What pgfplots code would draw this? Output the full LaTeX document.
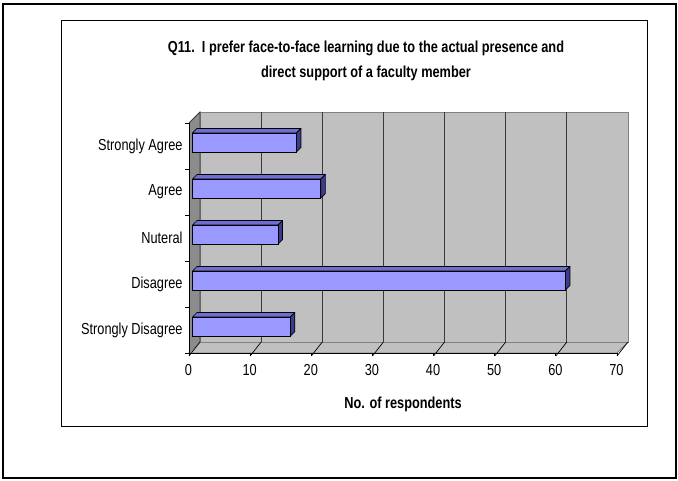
\documentclass[border=0pt]{standalone}
\usepackage{pgfplots}
\pgfplotsset{compat=1.18}
\usepackage{fontspec}
\setmainfont{Liberation Sans}[FakeStretch=0.8]
\definecolor{wallgray}{HTML}{C0C0C0}
\definecolor{sidegray}{HTML}{8C8C8C}
\definecolor{edgegray}{HTML}{808080}
\definecolor{gridgray}{HTML}{3A3A3A}
\definecolor{barfront}{HTML}{9999FF}
\definecolor{bartop}{HTML}{6E6ED2}
\definecolor{barend}{HTML}{3C3C8C}
\def\xu{6.114}% bp per respondent
\def\dep{11}% wall depth in bp

\begin{document}
\begin{tikzpicture}[x=1bp,y=1bp]
\useasboundingbox (0bp,0bp) rectangle (678bp,481bp);
% page frame and chart area
\draw[line width=2bp] (2.5bp,3bp) rectangle (676bp,476.5bp);
\draw[line width=1bp] (61bp,54bp) rectangle (647bp,460bp);
\node[font=\bfseries\fontsize{16}{25}\selectfont, align=center]
  at (366bp,420bp) {Q11.\ \ I prefer face-to-face learning due to the actual presence and\\direct support of a faculty member};
\begin{axis}[
  at={(189bp,128bp)}, anchor=south west,
  x=\xu bp, y=46bp,
  xmin=0, xmax=70, ymin=-0.5, ymax=4.5,
  clip=false, axis on top,
  axis x line*=bottom, axis y line*=left,
  axis line style={black, line width=0.9bp, -},
  xtick={0,10,...,70},
  ytick={0,...,4},
  yticklabels={Strongly Disagree,Disagree,Nuteral,Agree,Strongly Agree},
  minor ytick={-0.5,0.5,...,4.5},
  tick align=outside,
  major x tick style={black, line width=0.8bp},
  major tick length=3bp,
  major y tick style={draw=none},
  minor tick length=4bp,
  minor tick style={black, line width=0.8bp},
  /pgf/number format/assume math mode=true,
  tick label style={font=\fontsize{16}{18}\selectfont},
  xticklabel style={yshift=-5bp, xshift=-0.5bp},
  xlabel={No. of respondents},
  xlabel style={font=\bfseries\fontsize{16}{18}\selectfont, at={(axis description cs:0.5,-0.2217)}, anchor=center},
]
% side wall, floor and back wall
\fill[sidegray] (axis cs:0,-0.5) -- (axis cs:0,4.5) -- ([shift={(\dep bp,\dep bp)}]axis cs:0,4.5) -- ([shift={(\dep bp,\dep bp)}]axis cs:0,-0.5) -- cycle;
\filldraw[fill=wallgray, draw=edgegray, line width=0.8bp] (axis cs:0,-0.5) -- (axis cs:70,-0.5) -- ([shift={(\dep bp,\dep bp)}]axis cs:70,-0.5) -- ([shift={(\dep bp,\dep bp)}]axis cs:0,-0.5) -- cycle;
\filldraw[fill=wallgray, draw=edgegray, line width=0.8bp] ([shift={(\dep bp,\dep bp)}]axis cs:0,-0.5) rectangle ([shift={(\dep bp,\dep bp)}]axis cs:70,4.5);
\draw[gridgray, line width=0.8bp] (axis cs:0,4.5) -- ([shift={(\dep bp,\dep bp)}]axis cs:0,4.5) -- ([shift={(\dep bp,\dep bp)}]axis cs:0,-0.5);
\pgfplotsinvokeforeach{10,20,...,60}{
  \draw[gridgray, line width=0.8bp] ([shift={(\dep bp,\dep bp)}]axis cs:#1,-0.5) -- ([shift={(\dep bp,\dep bp)}]axis cs:#1,4.5);
}
\pgfplotsinvokeforeach{0,10,...,70}{
  \draw[black, line width=0.7bp] ([yshift=-3bp]axis cs:#1,-0.5) -- ([shift={(\dep bp,\dep bp)}]axis cs:#1,-0.5);
}
% bars: front face, top face and end face, sized from each value
\addplot[
  scatter, only marks, mark=*, mark size=0pt,
  mark options={draw=none, fill=none},
  visualization depends on={\thisrow{v} \as \val},
  scatter/@pre marker code/.code={%
    \pgfmathsetmacro\L{\val*\xu}%
    \filldraw[fill=bartop, draw=black, line width=0.7bp, line join=round]
      (-\L bp+3.5bp,13bp) -- (3.5bp,13bp) -- (8bp,17.5bp) -- (-\L bp+8bp,17.5bp) -- cycle;
    \filldraw[fill=barend, draw=black, line width=0.7bp, line join=round]
      (3.5bp,-6bp) -- (8bp,-1.5bp) -- (8bp,17.5bp) -- (3.5bp,13bp) -- cycle;
    \filldraw[fill=barfront, draw=black, line width=0.8bp]
      (-\L bp+3.5bp,-6bp) rectangle (3.5bp,13bp);
  },
  scatter/@post marker code/.code={},
] table[x=v, y=c] {
v  c
16 0
61 1
14 2
21 3
17 4
};
\end{axis}
\end{tikzpicture}
\end{document}
